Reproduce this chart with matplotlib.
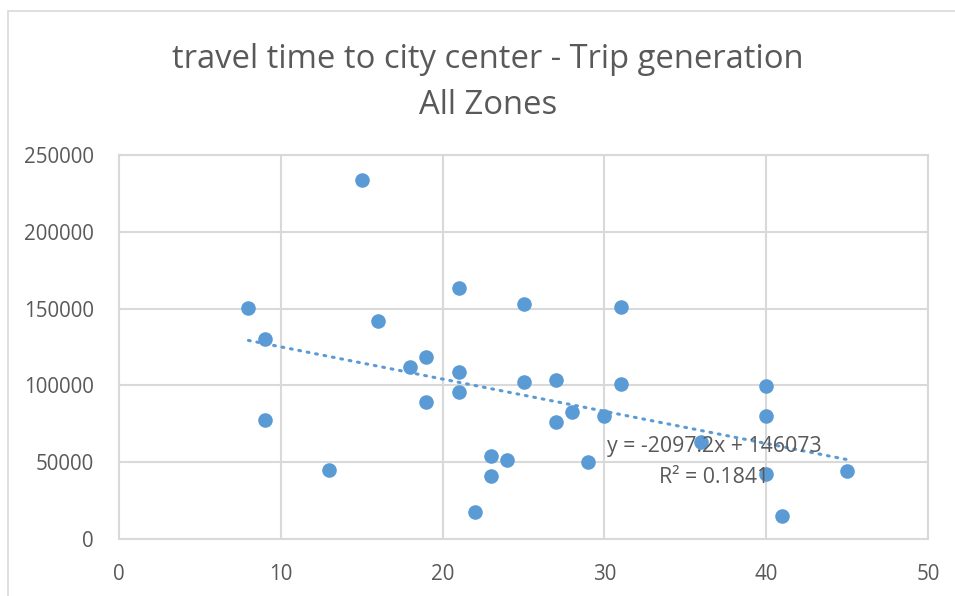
import numpy as np
import matplotlib.pyplot as plt
from matplotlib.patches import Rectangle

# travel time to city center (min) vs trip generation, one point per zone
travel_time = [8, 9, 9, 13, 15, 16, 18, 19, 19, 21, 21, 21, 22, 23, 23, 24,
               25, 25, 27, 27, 28, 29, 30, 31, 31, 36, 40, 40, 40, 41, 45]
trips = [150600, 130500, 77300, 44800, 233800, 142200, 112300, 118800, 89000,
         163600, 108400, 95500, 17500, 53900, 40900, 51300, 153200, 102000,
         103200, 76000, 82500, 50000, 79900, 151300, 100600, 63000, 99400,
         79900, 42200, 14900, 44200]

# linear trendline as reported in the chart
slope = -2097.2
intercept = 146073
r2 = 0.1841

x_ticks = [0, 10, 20, 30, 40, 50]
y_ticks = [0, 50000, 100000, 150000, 200000, 250000]

blue = "#5B9BD5"
text_gray = "#595959"
grid_gray = "#D9D9D9"

plt.rcParams['font.family'] = ['Open Sans', 'DejaVu Sans']

W, H = 955, 596
fig = plt.figure(figsize=(W / 100, H / 100), dpi=100)
fig.patch.set_facecolor("white")

# outer chart border
fig.add_artist(Rectangle((8 / W, -0.01), 1.2, 1 - 11 / H + 0.01, transform=fig.transFigure,
                         fill=False, edgecolor=grid_gray, linewidth=1.2))

left, right, top, bottom = 119, 928, 155, 539
ax = fig.add_axes([left / W, 1 - bottom / H, (right - left) / W, (bottom - top) / H])

ax.set_xlim(0, 50)
ax.set_ylim(0, 250000)
ax.set_xticks(x_ticks)
ax.set_yticks(y_ticks)
ax.set_xticklabels([str(v) for v in x_ticks])
ax.set_yticklabels([str(v) for v in y_ticks])
ax.tick_params(length=0, labelsize=14.8, colors=text_gray)
ax.tick_params(axis='y', pad=18)
ax.tick_params(axis='x', pad=18)
ax.grid(True, color=grid_gray, linewidth=1.5)
ax.set_axisbelow(True)
for s in ax.spines.values():
    s.set_color(grid_gray)
    s.set_linewidth(1.5)

ax.plot(travel_time, trips, 'o', color=blue, markersize=10.5, markeredgewidth=0, zorder=3)

xs = np.array([min(travel_time), max(travel_time)])
ax.plot(xs, slope * xs + intercept, color=blue, linewidth=2.2,
        linestyle=(0, (0.6, 2.2)), dash_capstyle='round', zorder=4)

ax.text(36.8, 60500, f"y = {slope}x + {intercept}", ha='center', va='center',
        fontsize=15.3, color=text_gray, zorder=5)
ax.text(36.8, 40300, f"R² = {r2}", ha='center', va='center',
        fontsize=15.3, color=text_gray, zorder=5)

fig.text(488 / W, 1 - 59 / H, "travel time to city center - Trip generation",
         ha='center', va='center', fontsize=23.6, color=text_gray)
fig.text(488 / W, 1 - 105 / H, "All Zones",
         ha='center', va='center', fontsize=23.6, color=text_gray)

fig.savefig("out.png", dpi=100)
